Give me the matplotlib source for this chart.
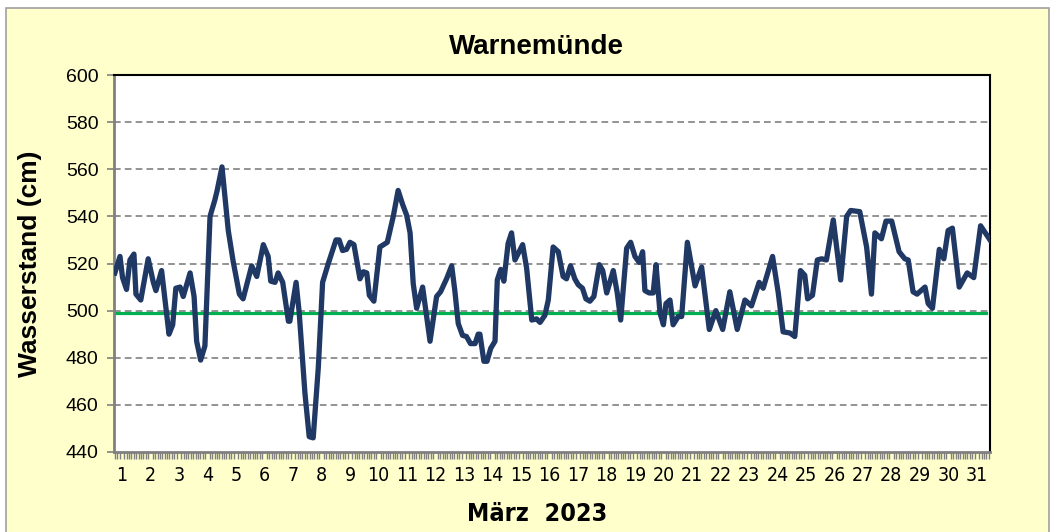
import matplotlib.pyplot as plt
from matplotlib.patches import Rectangle
from matplotlib.ticker import MultipleLocator

# Tag im März (Dezimal), Wasserstand in cm
tag = [0.75, 0.93, 1.02, 1.16, 1.28, 1.42, 1.49, 1.66, 1.92, 2.10, 2.19, 2.39, 2.65, 2.78, 2.89,
       3.04, 3.15, 3.39, 3.53, 3.62, 3.76, 3.91, 4.09, 4.26, 4.34, 4.51, 4.73, 4.90, 5.12, 5.25,
       5.55, 5.73, 5.96, 6.13, 6.22, 6.37, 6.48, 6.64, 6.84, 6.89, 7.11, 7.22, 7.42, 7.57, 7.71,
       7.89, 8.04, 8.24, 8.51, 8.62, 8.74, 8.88, 9.00, 9.14, 9.35, 9.47, 9.59, 9.68, 9.84, 10.05,
       10.31, 10.52, 10.69, 10.85, 10.99, 11.11, 11.22, 11.34, 11.55, 11.81, 12.04, 12.18, 12.39,
       12.57, 12.68, 12.80, 12.95, 13.09, 13.23, 13.39, 13.50, 13.56, 13.70, 13.81, 13.94, 14.09,
       14.17, 14.29, 14.40, 14.55, 14.67, 14.79, 15.06, 15.20, 15.38, 15.55, 15.67, 15.84, 15.96,
       16.13, 16.31, 16.48, 16.60, 16.74, 16.89, 17.01, 17.16, 17.28, 17.42, 17.56, 17.75, 17.87,
       18.01, 18.24, 18.38, 18.50, 18.71, 18.85, 19.00, 19.15, 19.27, 19.35, 19.50, 19.64, 19.74,
       19.88, 20.00, 20.09, 20.23, 20.34, 20.52, 20.64, 20.84, 21.11, 21.34, 21.61, 21.84, 22.08,
       22.33, 22.59, 22.86, 23.09, 23.36, 23.50, 23.83, 24.03, 24.20, 24.44, 24.61, 24.81, 24.96,
       25.06, 25.23, 25.40, 25.55, 25.72, 25.96, 26.22, 26.43, 26.57, 26.89, 27.13, 27.30, 27.42,
       27.65, 27.81, 28.01, 28.27, 28.47, 28.59, 28.76, 28.90, 29.18, 29.29, 29.44, 29.68, 29.84,
       29.99, 30.14, 30.38, 30.66, 30.89, 31.13, 31.46]
wasserstand = [516, 523, 514, 509, 521.5, 524, 507, 504.5, 522, 512, 508.5, 517, 490, 494, 509.5,
               510, 506, 516, 506, 487, 479, 485, 540, 547, 551, 561, 534, 521, 507, 505,
               519, 514.5, 528, 523, 512.5, 512, 516, 512, 495.5, 495.5, 512, 499, 465, 446.5, 446,
               476, 512, 520, 530, 530, 525.5, 526, 529, 528, 513.5, 516.5, 516, 506.5, 504, 527,
               529, 540, 551, 545, 540.5, 533, 511.5, 501, 510, 487, 506, 508, 513.5,
               519, 508.5, 494.5, 489.5, 489, 486, 486, 490, 490, 478.5, 478.5, 484, 487,
               513, 517.5, 512.5, 528.5, 533, 521.5, 528, 518, 496, 496.5, 495, 498, 504.5,
               527, 525, 514.5, 513.5, 519, 513.5, 511, 509.5, 505, 504, 506, 519.5, 517,
               507.5, 517, 507.5, 496, 526.5, 529, 523, 520.5, 525, 508.5, 507.5, 507.5, 519.5,
               499, 494, 503, 504.5, 494, 497.5, 497.5, 529, 510.5, 518.5, 492, 500, 492,
               508, 492, 504.5, 502, 512, 509.5, 523, 507.5, 491, 490.5, 489, 517, 515,
               505, 506.5, 521.5, 522, 521.5, 538.5, 513, 540, 542.5, 542, 527, 507, 533,
               530.5, 538, 538, 525, 522, 521.5, 508, 507, 510, 503, 501, 526, 522,
               534, 535, 510, 516, 514, 536, 530]
tage = list(range(1, 32))
mittelwasser = 499

narrow = dict(fontfamily='DejaVu Sans', fontstretch='condensed')

fig = plt.figure(figsize=(10.53, 5.32), dpi=100, facecolor='white')
fig.patches.append(Rectangle((6 / 1053, -0.01), 1043 / 1053, 1 - 8 / 532 + 0.01,
                             transform=fig.transFigure, facecolor='#FFFFCC',
                             edgecolor='#A0A0A0', linewidth=1.2, zorder=-5))

ax = fig.add_axes([114 / 1053, 1 - 452 / 532, 876 / 1053, 377 / 532])
ax.set_facecolor('white')

ax.plot(tag, wasserstand, color='#1F3864', linewidth=3.8, solid_joinstyle='round', zorder=3)
ax.axhline(mittelwasser, xmin=0, xmax=0.996, color='#00B050', linewidth=2.3, zorder=2)

ax.set_xlim(0.72, 31.46)
ax.set_ylim(440, 600)
ax.set_yticks(range(440, 601, 20))
for y in range(460, 600, 20):
    ax.axhline(y, color='#808080', linestyle=(0, (4, 2.5)), linewidth=1.2, zorder=1)

ax.set_xticks(tage)
ax.set_xticklabels([str(t) for t in tage], fontsize=14, **narrow)
ax.xaxis.set_minor_locator(MultipleLocator(1 / 12))
ax.tick_params(axis='x', which='major', length=0, pad=10)
ax.tick_params(axis='x', which='minor', length=5, color='#808080', width=1.0)
ax.tick_params(axis='y', which='major', length=5, color='#808080', width=1.2, labelsize=14, pad=6)
for lab in ax.get_yticklabels():
    lab.set_fontfamily(['Liberation Sans', 'DejaVu Sans'])

ax.spines['left'].set_color('#808080')
ax.spines['left'].set_linewidth(2)
ax.spines['bottom'].set_color('#808080')
ax.spines['bottom'].set_linewidth(2)
ax.spines['top'].set_color('black')
ax.spines['top'].set_linewidth(1.5)
ax.spines['right'].set_color('black')
ax.spines['right'].set_linewidth(1.5)

fig.text(536 / 1053, 1 - 47 / 532, 'Warnemünde', ha='center', va='center',
         fontsize=20, fontweight='bold', fontfamily=['Liberation Sans', 'DejaVu Sans'])
fig.text(30 / 1053, 1 - 264 / 532, 'Wasserstand (cm)', ha='center', va='center', rotation=90,
         fontsize=19, fontweight='bold', fontfamily=['Liberation Sans', 'DejaVu Sans'])
fig.text(537 / 1053, 1 - 514 / 532, 'März  2023', ha='center', va='center',
         fontsize=18, fontweight='bold', **narrow)

fig.savefig('out.png', dpi=100, facecolor=fig.get_facecolor())
